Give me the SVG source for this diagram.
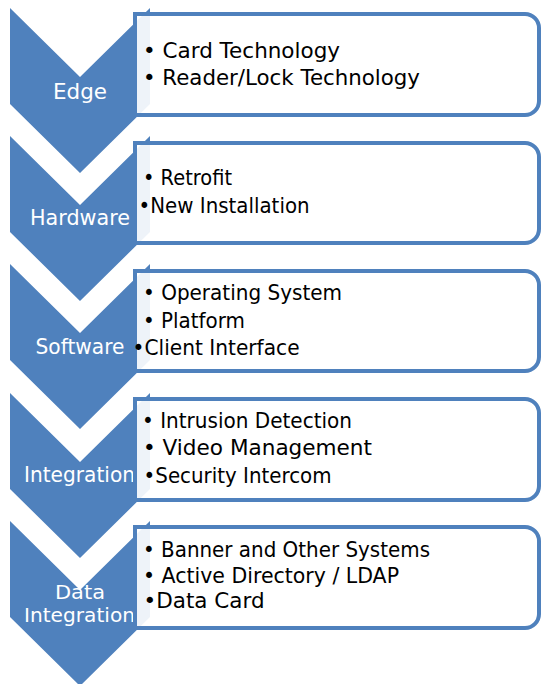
<svg xmlns="http://www.w3.org/2000/svg" width="542" height="684" viewBox="0 0 542 684">
<style>
.chev{fill:#4f81bd}
.box{fill:#ffffff;fill-opacity:0.9;stroke:#4f81bd;stroke-width:4}
.lab{font-family:"DejaVu Sans",sans-serif;font-size:21px;fill:#ffffff;text-anchor:middle}
.lab2{font-family:"DejaVu Sans",sans-serif;font-size:20px;fill:#ffffff;text-anchor:middle}
.itm{font-family:"DejaVu Sans",sans-serif;font-size:21px;fill:#000000}
</style>
<rect width="542" height="684" fill="#ffffff"/>
<g id="connectors"/>
<g id="edge-chevron">
<polygon class="chev" points="10,8 80,77 150,8 150,104 80,173 10,104"/>
<text class="lab" x="80" y="99" textLength="54" lengthAdjust="spacingAndGlyphs">Edge</text>
</g>
<g id="edge-box">
<path class="box" d="M135,14 H525 A14,14 0 0 1 539,28 V101 A14,14 0 0 1 525,115 H135 Z"/>
<text class="itm" x="143" y="58" textLength="197" lengthAdjust="spacingAndGlyphs">• Card Technology</text>
<text class="itm" x="143" y="85" textLength="277" lengthAdjust="spacingAndGlyphs">• Reader/Lock Technology</text>
</g>
<g id="hardware-chevron">
<polygon class="chev" points="10,136 80,205 150,136 150,232 80,301 10,232"/>
<text class="lab" x="80" y="225" textLength="100" lengthAdjust="spacingAndGlyphs">Hardware</text>
</g>
<g id="hardware-box">
<path class="box" d="M135,143 H525 A14,14 0 0 1 539,157 V229 A14,14 0 0 1 525,243 H135 Z"/>
<text class="itm" x="143" y="185" textLength="89" lengthAdjust="spacingAndGlyphs">• Retrofit</text>
<text class="itm" x="138.6" y="213" textLength="171" lengthAdjust="spacingAndGlyphs">•New Installation</text>
</g>
<g id="software-chevron">
<polygon class="chev" points="10,264 80,333 150,264 150,360 80,429 10,360"/>
<text class="lab" x="80" y="354" textLength="89" lengthAdjust="spacingAndGlyphs">Software</text>
</g>
<g id="software-box">
<path class="box" d="M135,271 H525 A14,14 0 0 1 539,285 V357 A14,14 0 0 1 525,371 H135 Z"/>
<text class="itm" x="143" y="300" textLength="199" lengthAdjust="spacingAndGlyphs">• Operating System</text>
<text class="itm" x="143" y="328" textLength="102" lengthAdjust="spacingAndGlyphs">• Platform</text>
<text class="itm" x="132.6" y="355" textLength="167" lengthAdjust="spacingAndGlyphs">•Client Interface</text>
</g>
<g id="integration-chevron">
<polygon class="chev" points="10,393 80,462 150,393 150,489 80,558 10,489"/>
<text class="lab" x="79.5" y="482" textLength="111" lengthAdjust="spacingAndGlyphs">Integration</text>
</g>
<g id="integration-box">
<path class="box" d="M135,399 H525 A14,14 0 0 1 539,413 V486 A14,14 0 0 1 525,500 H135 Z"/>
<text class="itm" x="142" y="428" textLength="210" lengthAdjust="spacingAndGlyphs">• Intrusion Detection</text>
<text class="itm" x="143" y="455" textLength="229" lengthAdjust="spacingAndGlyphs">• Video Management</text>
<text class="itm" x="143.6" y="483" textLength="188" lengthAdjust="spacingAndGlyphs">•Security Intercom</text>
</g>
<g id="data-integration-chevron">
<polygon class="chev" points="10,521 80,590 150,521 150,617 80,686 10,617"/>
<text class="lab2" x="80" y="599" textLength="50" lengthAdjust="spacingAndGlyphs">Data</text>
<text class="lab2" x="79.5" y="622" textLength="111" lengthAdjust="spacingAndGlyphs">Integration</text>
</g>
<g id="data-integration-box">
<path class="box" d="M135,527 H525 A14,14 0 0 1 539,541 V614 A14,14 0 0 1 525,628 H135 Z"/>
<text class="itm" x="143" y="557" textLength="287" lengthAdjust="spacingAndGlyphs">• Banner and Other Systems</text>
<text class="itm" x="143" y="583" textLength="256" lengthAdjust="spacingAndGlyphs">• Active Directory / LDAP</text>
<text class="itm" x="143.6" y="608" textLength="121" lengthAdjust="spacingAndGlyphs">•Data Card</text>
</g>
</svg>
